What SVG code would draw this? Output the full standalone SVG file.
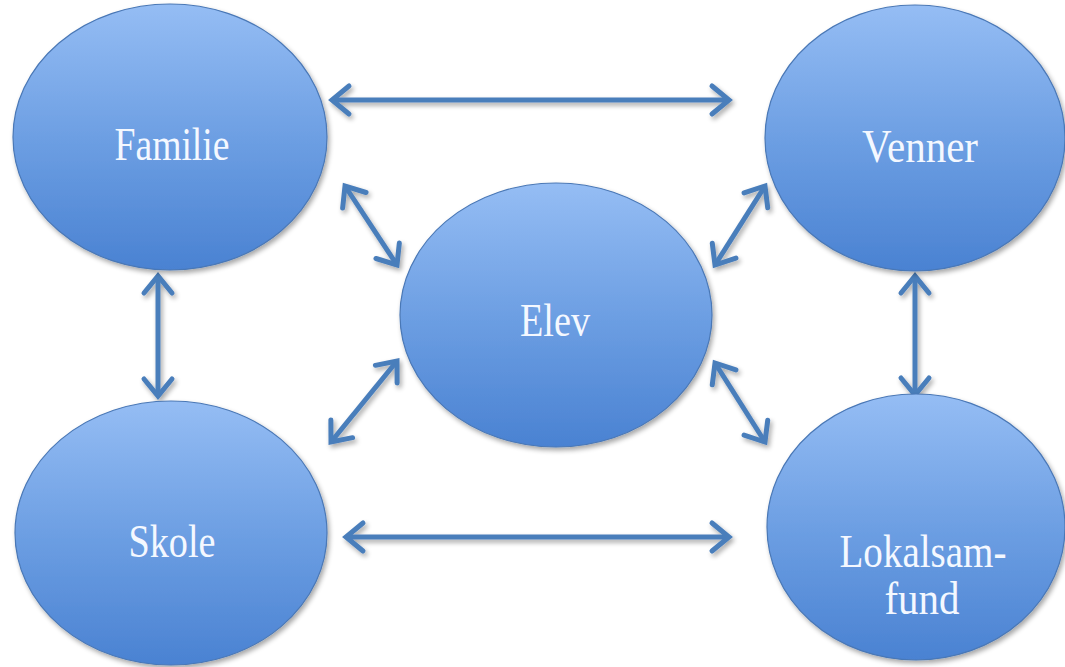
<svg xmlns="http://www.w3.org/2000/svg" width="1065" height="667" viewBox="0 0 1065 667">
<style>
.node{fill:url(#g);stroke:#4a78b6;stroke-width:1.2;filter:url(#sh)}
.lbl{font-family:"Liberation Serif","Times New Roman",serif;font-size:46px;fill:#f4f8ff;text-anchor:middle}
.con{fill:none;stroke:#4a7ebb;stroke-width:5;marker-start:url(#ah);marker-end:url(#ah)}
</style>
<defs>
<linearGradient id="g" x1="0" y1="0" x2="0" y2="1">
<stop offset="0" stop-color="#95bdf4"/>
<stop offset="0.5" stop-color="#6d9fe3"/>
<stop offset="1" stop-color="#4a82d2"/>
</linearGradient>
<filter id="sh" x="-10%" y="-10%" width="130%" height="130%">
<feGaussianBlur in="SourceAlpha" stdDeviation="2.5"/>
<feOffset dx="1.5" dy="2.5" result="b"/>
<feComponentTransfer><feFuncA type="linear" slope="0.35"/></feComponentTransfer>
<feMerge><feMergeNode/><feMergeNode in="SourceGraphic"/></feMerge>
</filter>
<marker id="ah" markerUnits="userSpaceOnUse" markerWidth="40" markerHeight="40" viewBox="-30 -20 40 40" refX="0" refY="0" orient="auto-start-reverse">
<path d="M-17,-14 L0,0 L-17,14" fill="none" stroke="#4a7ebb" stroke-width="5" stroke-linejoin="miter" stroke-linecap="round"/>
</marker>
</defs>
<g id="connectors" filter="url(#sh)">
<line class="con" x1="332" y1="100" x2="729" y2="100"/>
<line class="con" x1="346" y1="537" x2="729" y2="537"/>
<line class="con" x1="158" y1="276" x2="158" y2="396"/>
<line class="con" x1="915" y1="276" x2="915" y2="395"/>
<line class="con" x1="345" y1="186" x2="397" y2="265"/>
<line class="con" x1="765" y1="186" x2="715" y2="265"/>
<line class="con" x1="397" y1="361" x2="331" y2="442"/>
<line class="con" x1="715" y1="363" x2="765" y2="442"/>
</g>
<g id="familie">
<ellipse class="node" cx="170" cy="137" rx="157" ry="133"/>
<text class="lbl" x="172" y="160" textLength="115" lengthAdjust="spacingAndGlyphs">Familie</text>
</g>
<g id="venner">
<ellipse class="node" cx="915" cy="138" rx="150" ry="133"/>
<text class="lbl" x="920" y="162" textLength="116" lengthAdjust="spacingAndGlyphs">Venner</text>
</g>
<g id="elev">
<ellipse class="node" cx="556" cy="315" rx="156" ry="132"/>
<text class="lbl" x="555" y="336" textLength="70" lengthAdjust="spacingAndGlyphs">Elev</text>
</g>
<g id="skole">
<ellipse class="node" cx="171" cy="533" rx="156" ry="132"/>
<text class="lbl" x="172" y="557" textLength="87" lengthAdjust="spacingAndGlyphs">Skole</text>
</g>
<g id="lokalsamfund">
<ellipse class="node" cx="916" cy="527" rx="149" ry="133"/>
<text class="lbl" x="923" y="567" textLength="167" lengthAdjust="spacingAndGlyphs">Lokalsam-</text>
<text class="lbl" x="922" y="614" textLength="75" lengthAdjust="spacingAndGlyphs">fund</text>
</g>
</svg>
